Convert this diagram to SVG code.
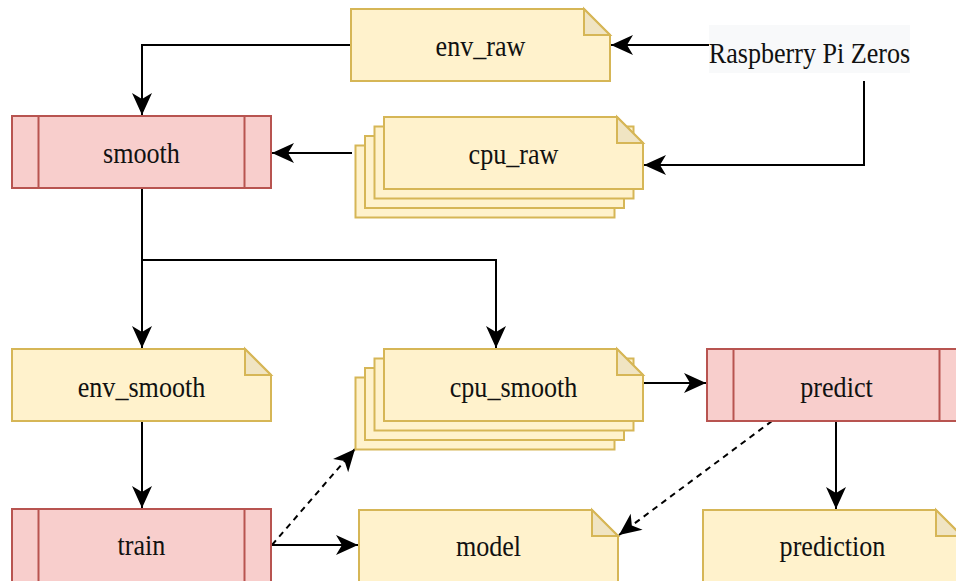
<svg xmlns="http://www.w3.org/2000/svg" width="956" height="581" viewBox="0 0 956 581">
<defs>
<style>
.note{fill:#fff2cc;stroke:#d6b656;stroke-width:2}
.fold{fill:#f0e4c2;stroke:#d6b656;stroke-width:2;stroke-linejoin:miter}
.proc{fill:#f8cecc;stroke:#b85450;stroke-width:2}
.lbl{font-family:"Liberation Serif","Times New Roman",serif;font-size:30px;fill:#111;text-anchor:middle}
.edge{fill:none;stroke:#000;stroke-width:2}
.dash{stroke-dasharray:6 5}
</style>
<marker id="arr" markerUnits="userSpaceOnUse" viewBox="-23 -11 24 22" refX="0" refY="0" markerWidth="24" markerHeight="22" orient="auto">
<path d="M0,0 L-22,-10 L-16,0 L-22,10 Z" fill="#000"/>
</marker>
</defs>
<rect width="956" height="581" fill="#fff"/>

<g id="connectors">
<path class="edge" d="M351,45 H142 V115" marker-end="url(#arr)"/>
<path class="edge" d="M352,153 H272" marker-end="url(#arr)"/>
<path class="edge" d="M709,45 H611" marker-end="url(#arr)"/>
<path class="edge" d="M864,81 V165 H644" marker-end="url(#arr)"/>
<path class="edge" d="M142,188 V348" marker-end="url(#arr)"/>
<path class="edge" d="M142,260 H496 V348" marker-end="url(#arr)"/>
<path class="edge" d="M142,421 V508" marker-end="url(#arr)"/>
<path class="edge" d="M643,383 H706" marker-end="url(#arr)"/>
<path class="edge" d="M836,421 V509" marker-end="url(#arr)"/>
<path class="edge dash" d="M772,421 L619,535" marker-end="url(#arr)"/>
<path class="edge dash" d="M272,545 L355,449" marker-end="url(#arr)"/>
<path class="edge" d="M272,545 H358" marker-end="url(#arr)"/>
</g>

<g id="env_raw">
<path class="note" d="M351,9 H584 L610,35 V81 H351 Z"/>
<path class="fold" d="M584,9 V35 H610 Z"/>
<text class="lbl" transform="translate(480.5,56) scale(0.87,1)">env_raw</text>
</g>

<g id="raspberry">
<rect x="709" y="25" width="201" height="48" fill="#f8f9fa"/>
<text class="lbl" transform="translate(809.5,63) scale(0.87,1)">Raspberry Pi Zeros</text>
</g>

<g id="smooth">
<rect class="proc" x="12" y="116" width="259" height="72"/>
<line class="proc" x1="38.5" y1="116" x2="38.5" y2="188"/>
<line class="proc" x1="244.5" y1="116" x2="244.5" y2="188"/>
<text class="lbl" transform="translate(141.5,163) scale(0.87,1)">smooth</text>
</g>

<g id="cpu_raw">
<rect class="note" x="355.5" y="145.5" width="259" height="72"/>
<rect class="note" x="365" y="136" width="259" height="72"/>
<rect class="note" x="374.5" y="126.5" width="259" height="72"/>
<path class="note" d="M384,117 H617 L643,143 V189 H384 Z"/>
<path class="fold" d="M617,117 V143 H643 Z"/>
<text class="lbl" transform="translate(513.5,164) scale(0.87,1)">cpu_raw</text>
</g>

<g id="env_smooth">
<path class="note" d="M12,349 H245 L271,375 V421 H12 Z"/>
<path class="fold" d="M245,349 V375 H271 Z"/>
<text class="lbl" transform="translate(141.5,397) scale(0.87,1)">env_smooth</text>
</g>

<g id="cpu_smooth">
<rect class="note" x="355.5" y="377.5" width="259" height="72"/>
<rect class="note" x="365" y="368" width="259" height="72"/>
<rect class="note" x="374.5" y="358.5" width="259" height="72"/>
<path class="note" d="M384,349 H617 L643,375 V421 H384 Z"/>
<path class="fold" d="M617,349 V375 H643 Z"/>
<text class="lbl" transform="translate(513.5,397) scale(0.87,1)">cpu_smooth</text>
</g>

<g id="predict">
<rect class="proc" x="707" y="349" width="259" height="72"/>
<line class="proc" x1="733.5" y1="349" x2="733.5" y2="421"/>
<line class="proc" x1="939.5" y1="349" x2="939.5" y2="421"/>
<text class="lbl" transform="translate(836.5,397) scale(0.87,1)">predict</text>
</g>

<g id="train">
<rect class="proc" x="12" y="509" width="259" height="80"/>
<line class="proc" x1="38.5" y1="509" x2="38.5" y2="589"/>
<line class="proc" x1="244.5" y1="509" x2="244.5" y2="589"/>
<text class="lbl" transform="translate(141.5,555) scale(0.87,1)">train</text>
</g>

<g id="model">
<path class="note" d="M359,510 H592 L618,536 V590 H359 Z"/>
<path class="fold" d="M592,510 V536 H618 Z"/>
<text class="lbl" transform="translate(488.5,556) scale(0.87,1)">model</text>
</g>

<g id="prediction">
<path class="note" d="M703,510 H936 L962,536 V590 H703 Z"/>
<path class="fold" d="M936,510 V536 H962 Z"/>
<text class="lbl" transform="translate(832.5,556) scale(0.87,1)">prediction</text>
</g>
</svg>
